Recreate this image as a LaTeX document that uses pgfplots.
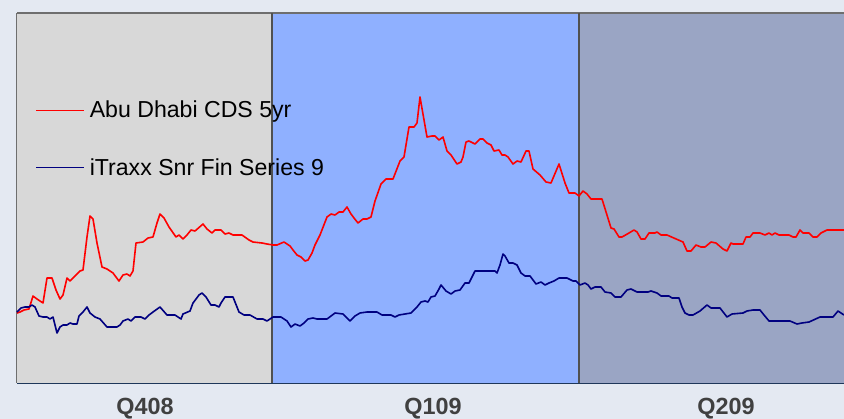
\documentclass[border=0pt]{standalone}
\usepackage{pgfplots}
\pgfplotsset{compat=1.18}
\usepackage{fontspec}
\setmainfont{Liberation Sans}
\definecolor{bgc}{RGB}{228,233,242}
\definecolor{reg1}{RGB}{216,216,216}
\definecolor{reg2}{RGB}{143,176,255}
\definecolor{reg3}{RGB}{154,165,196}
\definecolor{divc}{RGB}{80,80,80}
\definecolor{framec}{RGB}{110,110,110}
\definecolor{basec}{RGB}{30,55,90}
\definecolor{labc}{RGB}{64,64,64}
\definecolor{navyc}{RGB}{0,0,128}
\pgfplotstableread{
x y
17 313
20 312
24 310
29 309
33 296
37 299
43 303
47 278
52 278
56 290
60 299
63 295
67 278
70 281
75 276
80 271
83 270
87 237
90 216
93 219
97 243
102 267
107 269
113 273
119 281
123 275
127 274
130 276
133 271
136 243
143 242
148 238
153 237
157 223
160 214
164 218
169 227
176 237
179 235
183 239
187 235
191 230
195 231
203 224
207 229
212 233
215 230
221 230
225 234
229 233
233 235
242 235
249 240
253 242
262 243
267 244
273 245
277 245
284 242
290 246
293 250
297 255
301 257
305 261
308 260
312 253
315 245
320 235
327 217
331 214
335 215
339 212
343 212
347 207
351 214
354 218
358 223
363 219
367 219
371 217
375 201
381 184
386 179
393 179
400 161
404 157
409 127
414 127
417 123
420 97
427 137
432 136
435 136
439 140
443 137
447 151
451 155
457 164
461 162
463 157
466 142
469 141
475 144
480 139
483 139
487 143
491 145
494 151
499 150
502 155
505 155
508 157
513 164
517 161
521 162
526 151
529 151
533 169
540 175
546 182
551 183
559 164
565 183
569 193
575 193
579 196
583 191
587 194
591 199
602 199
611 228
614 229
619 237
622 237
629 233
634 230
637 232
641 239
645 239
649 233
655 233
657 232
661 235
667 235
683 242
687 251
691 251
696 245
701 247
705 247
711 242
716 243
723 249
727 251
731 243
733 244
743 244
746 237
750 237
753 233
760 233
765 235
769 233
772 235
775 233
779 235
789 235
793 237
796 237
800 230
803 233
809 233
813 237
817 237
821 233
827 230
844 230
}\abudhabi
\pgfplotstableread{
x y
17 312
21 308
25 307
29 307
32 305
35 307
39 316
43 317
47 317
50 319
53 317
55 325
57 333
60 327
63 325
67 325
70 323
73 324
77 324
79 316
83 312
87 307
90 313
95 317
100 319
107 327
117 327
120 325
123 321
128 319
131 321
135 317
141 317
145 319
149 315
153 312
160 307
167 315
175 315
181 319
183 314
190 311
193 303
199 295
202 293
206 297
211 305
215 305
219 307
221 303
225 297
233 297
239 312
244 315
250 315
257 319
263 319
267 321
273 317
281 317
287 321
291 327
295 324
300 326
304 323
308 319
313 318
317 319
327 319
335 313
343 314
350 321
355 316
360 313
367 312
377 312
382 315
391 315
395 317
399 315
405 314
411 313
417 307
421 302
425 301
428 302
431 297
435 296
439 289
441 285
446 291
451 294
455 291
460 290
465 283
469 283
471 279
475 271
480 271
495 271
497 273
500 265
503 254
505 256
509 263
513 263
517 265
521 273
525 276
530 276
536 284
541 282
545 285
549 283
554 281
559 278
567 278
573 281
576 281
580 285
585 283
588 285
591 289
595 287
601 287
605 292
611 293
615 297
621 297
627 290
631 289
637 292
648 292
651 291
657 293
661 296
669 296
672 298
679 298
682 307
685 313
689 315
693 315
700 311
707 305
711 308
720 308
727 317
732 314
743 313
747 311
753 310
760 310
764 315
769 321
790 321
797 324
802 323
809 322
820 317
833 317
838 311
844 315
}\itraxx
\begin{document}
\begin{tikzpicture}
\fill[bgc] (0,0) rectangle (844bp,419bp);
\useasboundingbox (0,0) rectangle (844bp,419bp);
\begin{axis}[
  at={(17bp,36bp)}, anchor=south west,
  scale only axis, width=827bp, height=370bp,
  xmin=17, xmax=844, ymin=13, ymax=383, y dir=reverse,
  clip=false,
  axis x line=bottom, axis y line=left,
  x axis line style={draw=basec, line width=1.6bp, -},
  y axis line style={draw=framec, line width=1.6bp, -},
  xtick={145,433,726},
  xticklabels={Q408,Q109,Q209},
  ytick=\empty, major tick length=0pt,
  xticklabel style={anchor=north, inner sep=0pt, yshift=-14.5bp, text=labc,
    font=\fontsize{23.5}{26}\selectfont\bfseries},
  legend cell align=left,
  legend image code/.code={\path[draw=none,fill=none] (0bp,-9bp) rectangle (48bp,9bp); \draw[#1, line width=1.6bp] (0bp,0bp) -- (48bp,0bp);},
  legend style={at={(axis cs:35,101)}, anchor=north west, draw=none, fill=none,
    inner xsep=0pt, inner ysep=0pt, row sep=39bp, column sep=5bp,
    nodes={inner sep=0pt}, font=\fontsize{23.2}{26}\selectfont},
]
\addplot[fill=reg1, draw=none, forget plot] coordinates {(17,13) (272,13) (272,383) (17,383)} -- cycle;
\addplot[fill=reg2, draw=none, forget plot] coordinates {(272,13) (579,13) (579,383) (272,383)} -- cycle;
\addplot[fill=reg3, draw=none, forget plot] coordinates {(579,13) (844,13) (844,383) (579,383)} -- cycle;
\addplot[draw=framec, line width=1.6bp, forget plot] coordinates {(17,13) (844,13)};
\addplot[draw=divc, line width=1.6bp, forget plot] coordinates {(272,13) (272,383)};
\addplot[draw=divc, line width=1.6bp, forget plot] coordinates {(579,13) (579,383)};
\addplot[red, line width=1.6bp, line join=round] table[x=x,y=y] {\abudhabi};
\addlegendentry{\rule[-2bp]{0pt}{18bp}Abu Dhabi CDS 5yr}
\addplot[navyc, line width=1.6bp, line join=round] table[x=x,y=y] {\itraxx};
\addlegendentry{\rule[-2bp]{0pt}{18bp}iTraxx Snr Fin Series 9}
\end{axis}
\end{tikzpicture}
\end{document}
